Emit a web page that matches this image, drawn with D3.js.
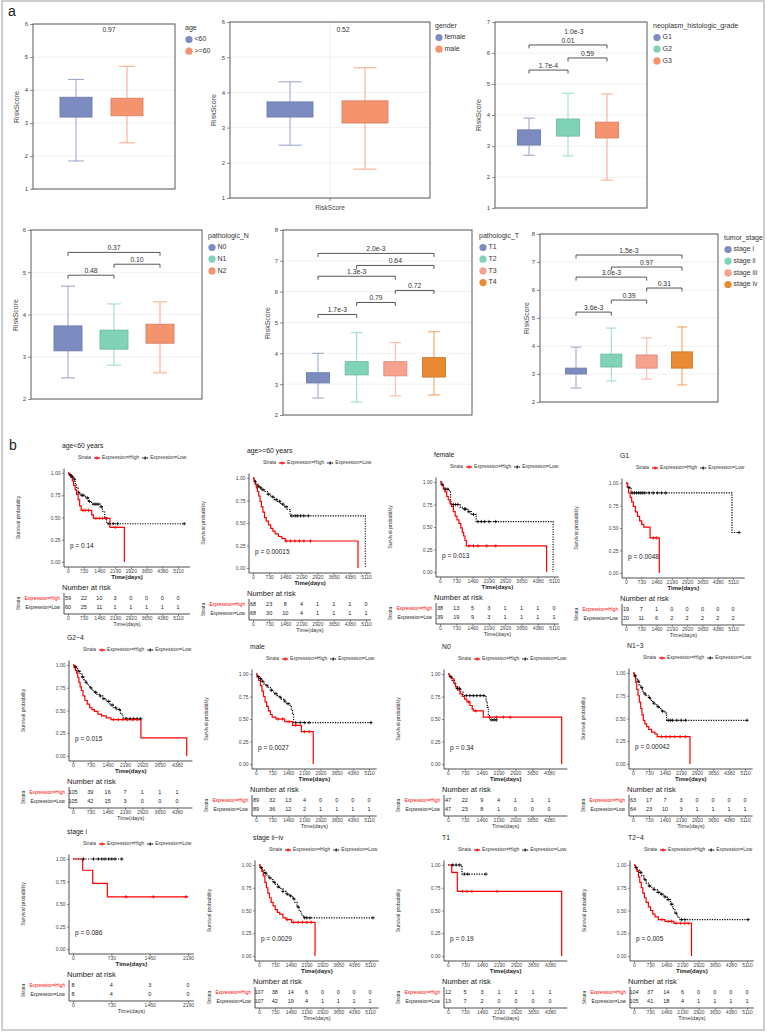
<!DOCTYPE html>
<html><head><meta charset="utf-8">
<script src="https://cdn.jsdelivr.net/npm/d3@7"></script>
<style>body{margin:0;background:#fff}svg{display:block}</style>
</head><body>
<svg id="c" width="767" height="1032"></svg>
<script>
// ---------------- DATA: panel a (box plots) : [lower whisker, Q1, Q3, upper whisker]
const ageGroups = ["<60", ">=60"];
const ageStats = [[1.85,3.18,3.78,4.32],[2.40,3.22,3.75,4.72]];
const agePValue = "0.97";
const genderGroups = ["female", "male"];
const genderStats = [[2.50,3.30,3.73,4.30],[1.82,3.13,3.76,4.70]];
const genderPValue = "0.52";
const gradeGroups = ["G1","G2","G3"];
const gradeStats = [[2.70,3.03,3.52,3.90],[2.68,3.32,3.87,4.70],[1.90,3.26,3.77,4.68]];
const gradeBrackets = [["G1","G2",5.45,"1.7e-4"],["G2","G3",5.84,"0.59"],["G1","G3",6.26,"0.01"]];
const gradeGlobal = ["1.0e-3", 6.68];
const nGroups = ["N0","N1","N2"];
const nStats = [[2.50,3.14,3.73,4.67],[2.80,3.18,3.63,4.25],[2.62,3.32,3.77,4.30]];
const nBrackets = [["N0","N1",4.93,"0.48"],["N1","N2",5.19,"0.10"],["N0","N2",5.47,"0.37"]];
const tGroups = ["T1","T2","T3","T4"];
const tStats = [[2.55,3.04,3.37,4.00],[2.42,3.30,3.73,4.67],[2.62,3.27,3.73,4.35],[2.65,3.23,3.86,4.70]];
const tBrackets = [["T1","T2",5.26,"1.7e-3"],["T2","T3",5.65,"0.79"],["T3","T4",6.04,"0.72"],["T1","T3",6.50,"1.3e-3"],["T2","T4",6.85,"0.64"],["T1","T4",7.24,"2.0e-3"]];
const stageGroups = ["stage i","stage ii","stage iii","stage iv"];
const stageStats = [[2.50,3.00,3.21,3.96],[2.75,3.25,3.71,4.64],[2.82,3.21,3.68,4.29],[2.61,3.21,3.79,4.68]];
const stageBrackets = [["stage i","stage ii",5.21,"3.6e-3"],["stage ii","stage iii",5.64,"0.39"],["stage iii","stage iv",6.07,"0.31"],["stage i","stage iii",6.46,"3.0e-3"],["stage ii","stage iv",6.82,"0.97"],["stage i","stage iv",7.25,"1.5e-3"]];

// ---------------- DATA: panel b (Kaplan-Meier)
const kmTitles = ["age<60 years","age>=60 years","female","G1","G2~4","male","N0","N1~3","stage i","stage ii~iv","T1","T2~4"];
const kmPValues = ["p = 0.14","p = 0.00015","p = 0.013","p = 0.0048","p = 0.015","p = 0.0027","p = 0.34","p = 0.00042","p = 0.086","p = 0.0029","p = 0.19","p = 0.005"];
const kmTickMax = [5110,5110,5110,5110,4380,5110,4380,5110,2190,5110,4380,5110];
const kmRiskHigh = [[59,22,10,3,0,0,0,0],[68,23,8,4,1,1,1,0],[38,13,5,3,1,1,1,0],[19,7,1,0,0,0,0,0],[105,39,16,7,1,1,1],[89,32,13,4,0,0,0,0],[47,22,9,4,1,1,1],[63,17,7,3,0,0,0,0],[8,4,3,0],[107,38,14,6,0,0,0,0],[12,5,3,1,1,1,1],[104,37,14,6,0,0,0,0]];
const kmRiskLow = [[60,25,11,1,1,1,1,1],[68,30,10,4,1,1,1,1],[39,19,9,3,1,1,1,1],[20,11,6,2,2,2,2,2],[105,42,15,3,0,0,0],[89,36,12,2,1,1,1,1],[47,23,8,1,0,0,0],[64,23,10,3,1,1,1,1],[8,4,0,0],[107,42,19,4,1,1,1,1],[13,7,2,0,0,0,0],[105,41,18,4,1,1,1,1]];
// step curves: [time(days), survival from that time on]
const kmHighSteps = [
 [[0,1],[60,0.98],[120,0.95],[200,0.91],[260,0.86],[330,0.81],[400,0.76],[470,0.70],[540,0.63],[610,0.58],[1100,0.53],[1180,0.49],[1950,0.39],[2620,0]],
 [[0,1],[50,0.97],[100,0.93],[150,0.89],[200,0.85],[260,0.80],[320,0.74],[380,0.68],[450,0.62],[520,0.56],[600,0.52],[700,0.48],[800,0.44],[900,0.41],[1000,0.38],[1150,0.35],[1300,0.33],[1460,0.30],[4750,0]],
 [[0,1],[80,0.97],[150,0.92],[220,0.89],[300,0.84],[370,0.80],[450,0.76],[520,0.73],[600,0.67],[680,0.62],[760,0.58],[850,0.54],[930,0.49],[1000,0.44],[1060,0.40],[1120,0.35],[1180,0.29],[4780,0]],
 [[0,1],[60,0.95],[120,0.89],[200,0.84],[270,0.79],[350,0.74],[450,0.68],[550,0.63],[650,0.58],[750,0.54],[850,0.51],[1150,0.39],[1590,0]],
 [[0,1],[50,0.97],[100,0.94],[150,0.91],[200,0.86],[250,0.81],[300,0.76],[350,0.72],[420,0.66],[500,0.61],[600,0.57],[700,0.53],[800,0.51],[900,0.49],[1050,0.46],[1200,0.44],[1400,0.42],[1600,0.40],[2860,0.20],[4790,0]],
 [[0,1],[50,0.97],[120,0.93],[200,0.87],[270,0.81],[340,0.75],[410,0.69],[480,0.64],[560,0.59],[650,0.55],[730,0.52],[900,0.50],[1300,0.47],[1650,0.43],[2050,0.36],[2590,0]],
 [[0,1],[60,0.97],[150,0.95],[250,0.90],[330,0.86],[420,0.82],[520,0.78],[620,0.75],[720,0.72],[820,0.69],[950,0.65],[1050,0.61],[1100,0.59],[1530,0.52],[4930,0]],
 [[0,1],[60,0.96],[120,0.90],[170,0.82],[230,0.75],[290,0.68],[350,0.61],[410,0.54],[470,0.48],[540,0.44],[620,0.41],[720,0.38],[850,0.35],[1000,0.33],[1100,0.30],[2600,0]],
 [[0,1],[185,0.875],[375,0.73],[654,0.58]],
 [[0,1],[60,0.97],[130,0.93],[200,0.88],[270,0.81],[340,0.75],[410,0.69],[480,0.64],[560,0.59],[650,0.55],[750,0.51],[850,0.48],[950,0.46],[1100,0.42],[1250,0.40],[1500,0.37],[2580,0]],
 [[0,1],[160,0.92],[400,0.71],[4880,0]],
 [[0,1],[60,0.97],[130,0.93],[200,0.87],[260,0.81],[330,0.75],[400,0.69],[470,0.64],[550,0.59],[650,0.54],[750,0.50],[850,0.46],[950,0.43],[1100,0.40],[1400,0.38],[1800,0.36],[2600,0]]
];
const kmHighEnd = [2620,4750,4780,1590,4790,2590,4930,2600,2190,2580,4880,2600];
const kmHighCensor = [[700,800,950,1300,1450,1600,1750,2200],[1500,1700,1900,2100,2300,2600],[1300,1500,1700,2100,2500],[1300,1450],[1700,1900,2100,2300,2500,2700],[1000,1200,1500,1800,2200,2400],[900,1200,1800,2100,2400,2700],[1300,1500,1700,1900,2150,2400],[1010,1530,2150],[1300,1600,1800,2000,2200,2400],[630,820,1030,2100],[1250,1550,1700,1900,2100,2300,2450]];
const kmLowSteps = [
 [[0,1],[80,0.98],[150,0.96],[250,0.93],[330,0.88],[400,0.83],[470,0.78],[560,0.75],[800,0.72],[950,0.68],[1100,0.65],[1500,0.62],[1600,0.57],[1700,0.50],[1800,0.43]],
 [[0,1],[60,0.96],[120,0.93],[200,0.91],[300,0.89],[400,0.87],[500,0.85],[650,0.82],[800,0.79],[950,0.76],[1100,0.74],[1250,0.71],[1400,0.68],[1550,0.65],[1680,0.58],[5080,0]],
 [[0,1],[50,0.97],[120,0.95],[200,0.92],[420,0.89],[470,0.78],[500,0.75],[900,0.72],[1000,0.70],[1250,0.67],[1400,0.64],[1620,0.56],[5070,0]],
 [[0,1],[100,0.95],[240,0.89],[5060,0.45]],
 [[0,1],[80,0.98],[150,0.96],[220,0.93],[300,0.90],[380,0.87],[450,0.84],[520,0.81],[600,0.78],[700,0.75],[800,0.72],[900,0.70],[1000,0.68],[1100,0.66],[1250,0.63],[1400,0.60],[1550,0.56],[1700,0.53],[1850,0.51],[2000,0.46],[2100,0.42],[2200,0.41]],
 [[0,1],[60,0.97],[150,0.95],[250,0.92],[350,0.89],[450,0.87],[550,0.85],[650,0.82],[750,0.80],[850,0.78],[950,0.76],[1050,0.74],[1150,0.72],[1250,0.70],[1350,0.67],[1550,0.65],[1600,0.60],[1650,0.56],[1700,0.46]],
 [[0,1],[80,0.97],[180,0.93],[280,0.88],[350,0.84],[550,0.80],[650,0.76],[1650,0.70],[1700,0.63],[1750,0.55],[1800,0.49]],
 [[0,1],[60,0.97],[130,0.94],[200,0.91],[280,0.87],[350,0.84],[430,0.80],[500,0.77],[600,0.75],[700,0.73],[800,0.70],[900,0.67],[1000,0.65],[1100,0.63],[1200,0.61],[1300,0.58],[1450,0.56],[1530,0.48]],
 [[0,1]],
 [[0,1],[60,0.97],[150,0.94],[250,0.91],[350,0.89],[450,0.86],[550,0.84],[650,0.81],[750,0.79],[850,0.76],[950,0.74],[1100,0.71],[1250,0.68],[1400,0.66],[1550,0.63],[1650,0.59],[1750,0.54],[1850,0.49],[1950,0.45],[2050,0.42]],
 [[0,1],[600,0.9]],
 [[0,1],[60,0.97],[150,0.94],[250,0.92],[350,0.88],[450,0.84],[550,0.80],[650,0.77],[750,0.75],[900,0.73],[1050,0.70],[1200,0.68],[1350,0.65],[1500,0.62],[1650,0.57],[1750,0.52],[1850,0.47],[1950,0.43],[2050,0.40]]
];
const kmLowEnd = [5400,5080,5070,5400,2860,5200,2100,5200,930,5250,1630,5160];
const kmLowCensor = [[100,200,300,500,650,700,900,1000,1200,1300,1400,1550,1900,2100,2300,5400],[100,250,350,450,700,900,1050,1200,1350,1500,1750,1900,2000,2150,2300,2500],[100,250,350,600,700,800,1100,1150,1300,1500,1700,1850,2000,2200,2500],[150,300,400,500,600,700,800,900,1100,1300,1500,1700,1900,5400],[100,250,400,550,750,950,1150,1300,1500,1650,1800,1950,2250,2400,2550,2700,2850],[100,200,300,500,700,900,1100,1300,1450,1800,2000,2200,2400,5200],[120,400,500,800,950,1100,1250,1400,1550,1900,2000,2100],[100,250,400,550,750,950,1150,1350,1600,1700,1800,2000,2200,2400,5200],[200,390,480,550,610,680,740,800,930],[100,300,500,700,900,1100,1300,1450,1600,1800,2100,2200,2350,5250],[200,350,500,700,850,1630],[100,300,500,700,900,1100,1250,1400,1550,1700,1900,2150,2300,5160]];

// ---------------- LAYOUT & STYLE
const FONT = '"Liberation Sans", Arial, Helvetica, sans-serif';
const BLUE="#7d8cc0", MINT="#80d3b7", ORANGE="#f5936f", SALMON="#f6a28e", DKORANGE="#e98a32";
const boxLayout = [
 {frame:[33,175,24,189], domain:[1,6], xr:[76,127], bw:32, legend:[185,28], ylab:[17,107], pLab:[109,32]},
 {frame:[230,430,22,198], domain:[1,6], xr:[290,365], bw:46, legend:[435,26], ylab:[214,110], pLab:[343,32], vgrid:true},
 {frame:[495,647,22,208], domain:[1,7], xr:[529,607], bw:23, legend:[653,26], ylab:[479,115], gX:574},
 {frame:[31,202,230,399], domain:[2,6], xr:[68,160], bw:28, legend:[208,236], ylab:[16,315]},
 {frame:[283,472,230,415], domain:[2,8], xr:[318,434], bw:23, legend:[479,236], ylab:[268,323]},
 {frame:[540,718,234,402], domain:[2,8], xr:[576,682], bw:21, legend:[724,238], ylab:[527,318]}
];
const kmLayout = [
 {x0:68,xt:178,y1:473,y0:562},{x0:253,xt:366,y1:478,y0:568},{x0:440,xt:554,y1:482,y0:572},{x0:626,xt:733,y1:483,y0:573},
 {x0:73,xt:177,y1:665,y0:756},{x0:256,xt:369,y1:674,y0:764},{x0:448,xt:549,y1:674,y0:764},{x0:633,xt:745,y1:673,y0:764},
 {x0:73,xt:188,y1:859,y0:949},{x0:259,xt:370,y1:865,y0:956},{x0:448,xt:550,y1:865,y0:956},{x0:634,xt:747,y1:865,y0:956}
];

const svg = d3.select("#c").attr("font-family", FONT);
svg.append("rect").attr("width",767).attr("height",1032).attr("fill","#fff");
svg.append("rect").attr("x",2).attr("y",1).attr("width",762).attr("height",1029)
  .attr("fill","none").attr("stroke","#bdbdbd").attr("stroke-width",1.5);
svg.append("text").attr("x",8).attr("y",16).attr("font-size",14).attr("fill","#222").text("a");
svg.append("text").attr("x",9).attr("y",450).attr("font-size",14).attr("fill","#222").text("b");

function styleAxis(sel, fs){
  sel.select(".domain").remove();
  sel.attr("font-family", FONT).attr("font-size", fs);
  sel.selectAll(".tick line").attr("stroke","#444").attr("stroke-width",0.6);
  sel.selectAll(".tick text").attr("fill","#444");
}

function drawBox(k, groups, stats, colors, legendTitle, brackets, pText, global, xlabel){
  const L = boxLayout[k];
  const [l,r,t,b] = L.frame;
  const y = d3.scaleLinear().domain(L.domain).range([b,t]);
  const x = d3.scalePoint().domain(groups).range(L.xr);
  const g = svg.append("g");
  const ticks = d3.range(L.domain[0], L.domain[1]+1);
  g.selectAll(null).data(ticks).join("line")
    .attr("x1",l).attr("x2",r).attr("y1",d=>y(d)).attr("y2",d=>y(d))
    .attr("stroke","#ececec").attr("stroke-width",0.8);
  if (L.vgrid) g.append("line").attr("x1",(l+r)/2).attr("x2",(l+r)/2).attr("y1",t).attr("y2",b).attr("stroke","#ececec").attr("stroke-width",0.8);
  const ax = g.append("g").attr("transform",`translate(${l},0)`)
    .call(d3.axisLeft(y).tickValues(ticks).tickSize(3).tickPadding(2).tickFormat(d3.format("d")));
  styleAxis(ax, 6);
  g.append("rect").attr("x",l).attr("y",t).attr("width",r-l).attr("height",b-t)
    .attr("fill","none").attr("stroke","#5a5a5a").attr("stroke-width",1);
  if (xlabel){
    g.append("line").attr("x1",(l+r)/2).attr("x2",(l+r)/2).attr("y1",b).attr("y2",b+3).attr("stroke","#444").attr("stroke-width",0.6);
    g.append("text").attr("x",(l+r)/2).attr("y",b+12).attr("text-anchor","middle").attr("font-size",6.5).attr("fill","#444").text(xlabel);
  }
  const bw = L.bw;
  groups.forEach((gr,i)=>{
    const [lo,q1,q3,hi] = stats[i], c = colors[i], cx = x(gr);
    const wc = d3.interpolateRgb(c,"#ffffff")(0.25);
    g.append("line").attr("x1",cx).attr("x2",cx).attr("y1",y(lo)).attr("y2",y(hi)).attr("stroke",wc).attr("stroke-width",1.1);
    [lo,hi].forEach(v=>g.append("line").attr("x1",cx-bw/4).attr("x2",cx+bw/4).attr("y1",y(v)).attr("y2",y(v)).attr("stroke",wc).attr("stroke-width",1.1));
    g.append("rect").attr("x",cx-bw/2).attr("y",y(q3)).attr("width",bw).attr("height",y(q1)-y(q3))
      .attr("fill",c).attr("stroke",d3.color(c).darker(0.35)).attr("stroke-width",0.9);
  });
  (brackets||[]).forEach(([a,bb,v,lab])=>{
    const yy = y(v);
    g.append("path").attr("d",`M${x(a)},${yy+3.5}V${yy}H${x(bb)}V${yy+3.5}`)
      .attr("fill","none").attr("stroke","#444").attr("stroke-width",0.9);
    g.append("text").attr("x",(x(a)+x(bb))/2).attr("y",yy-2).attr("text-anchor","middle")
      .attr("font-size",6.8).attr("fill","#333").text(lab);
  });
  if (global) g.append("text").attr("x",L.gX).attr("y",y(global[1])+2.5).attr("text-anchor","middle").attr("font-size",6.8).attr("fill","#333").text(global[0]);
  if (pText) g.append("text").attr("x",L.pLab[0]).attr("y",L.pLab[1]).attr("text-anchor","middle").attr("font-size",6.8).attr("fill","#333").text(pText);
  const [lx,ly] = L.legend;
  g.append("text").attr("x",lx).attr("y",ly).attr("dominant-baseline","middle").attr("font-size",7).attr("fill","#333").text(legendTitle);
  groups.forEach((gr,i)=>{
    const yy = ly + 11.5 + i*11.7;
    g.append("circle").attr("cx",lx+4).attr("cy",yy).attr("r",3.6).attr("fill",colors[i]);
    g.append("text").attr("x",lx+9.5).attr("y",yy).attr("dominant-baseline","middle").attr("font-size",7).attr("fill","#333").text(gr);
  });
  g.append("text").attr("transform",`translate(${L.ylab[0]},${L.ylab[1]}) rotate(-90)`)
    .attr("text-anchor","middle").attr("dominant-baseline","middle").attr("font-size",7).attr("fill","#444").text("RiskScore");
}

drawBox(0, ageGroups, ageStats, [BLUE,ORANGE], "age", null, agePValue);
drawBox(1, genderGroups, genderStats, [BLUE,ORANGE], "gender", null, genderPValue, null, "RiskScore");
drawBox(2, gradeGroups, gradeStats, [BLUE,MINT,ORANGE], "neoplasm_histologic_grade", gradeBrackets, null, gradeGlobal);
drawBox(3, nGroups, nStats, [BLUE,MINT,ORANGE], "pathologic_N", nBrackets);
drawBox(4, tGroups, tStats, [BLUE,MINT,SALMON,DKORANGE], "pathologic_T", tBrackets);
drawBox(5, stageGroups, stageStats, [BLUE,MINT,SALMON,DKORANGE], "tumor_stage", stageBrackets);

// ---------------- KM panels
function survAt(steps, t){ let s = steps[0][1]; for (const [tt,ss] of steps){ if (tt<=t) s=ss; } return s; }
function cross(g, cx, cy, col){
  g.append("path").attr("d",`M${cx-1.7},${cy}h3.4M${cx},${cy-1.7}v3.4`).attr("stroke",col).attr("stroke-width",0.8).attr("fill","none");
}
function drawKM(i){
  const L = kmLayout[i];
  const x = d3.scaleLinear().domain([0,kmTickMax[i]]).range([L.x0,L.xt]);
  const y = d3.scaleLinear().domain([0,1]).range([L.y0,L.y1]);
  const ax = L.x0-4;
  const tEnd = Math.max(kmHighEnd[i], kmLowEnd[i]);
  const xEnd = x(tEnd*1.05);
  const yTop = y(1.05), yAx = L.y0+5;
  const ticks = d3.range(0, kmTickMax[i]+1, 730);
  const g = svg.append("g");
  g.append("text").attr("x",ax-2).attr("y",L.y1-27).attr("dominant-baseline","middle").attr("font-size",6.8).attr("fill","#222").text(kmTitles[i]);
  // legend (positions from measured text widths)
  const ly = L.y1-15;
  let cx = ax+14;
  const lt = (txt)=>{ const tnode = g.append("text").attr("x",cx).attr("y",ly).attr("dominant-baseline","middle").attr("font-size",4.9).attr("fill","#333").text(txt);
    cx += tnode.node().getComputedTextLength(); };
  lt("Strata"); cx += 3;
  g.append("line").attr("x1",cx).attr("x2",cx+6).attr("y1",ly).attr("y2",ly).attr("stroke","#f00").attr("stroke-width",1.2);
  cross(g, cx+3, ly, "#f00"); cx += 8;
  lt("Expression=High"); cx += 3;
  g.append("line").attr("x1",cx).attr("x2",cx+6).attr("y1",ly).attr("y2",ly).attr("stroke","#000").attr("stroke-width",1.2).attr("stroke-dasharray","1.2,1.2");
  cross(g, cx+3, ly, "#000"); cx += 8;
  lt("Expression=Low");
  // axes
  g.append("line").attr("x1",ax).attr("x2",ax).attr("y1",yTop).attr("y2",yAx).attr("stroke","#222").attr("stroke-width",0.8);
  g.append("line").attr("x1",ax).attr("x2",xEnd).attr("y1",yAx).attr("y2",yAx).attr("stroke","#222").attr("stroke-width",0.8);
  const ya = g.append("g").attr("transform",`translate(${ax},0)`)
    .call(d3.axisLeft(y).tickValues([0,0.25,0.5,0.75,1]).tickFormat(d3.format(".2f")).tickSize(2).tickPadding(1.5));
  styleAxis(ya, 5);
  const xa = g.append("g").attr("transform",`translate(0,${yAx})`)
    .call(d3.axisBottom(x).tickValues(ticks).tickFormat(d3.format("d")).tickSize(2).tickPadding(0.5));
  styleAxis(xa, 5);
  g.append("text").attr("x",(ax+xEnd)/2).attr("y",L.y0+15).attr("text-anchor","middle").attr("dominant-baseline","middle")
    .attr("font-size",6).attr("font-weight","bold").attr("fill","#222").text("Time(days)");
  g.append("text").attr("transform",`translate(${ax-45},${(L.y0+L.y1)/2}) rotate(-90)`)
    .attr("text-anchor","middle").attr("dominant-baseline","middle").attr("font-size",5.2).attr("fill","#333").text("Survival probability");
  function stepPath(steps, end){
    let d = `M${x(steps[0][0])},${y(steps[0][1])}`;
    for (let k=1;k<steps.length;k++) d += `H${x(steps[k][0])}V${y(steps[k][1])}`;
    return d + `H${x(end)}`;
  }
  g.append("path").attr("d",stepPath(kmLowSteps[i],kmLowEnd[i])).attr("fill","none").attr("stroke","#000").attr("stroke-width",1.2).attr("stroke-dasharray","1.2,1.3");
  g.append("path").attr("d",stepPath(kmHighSteps[i],kmHighEnd[i])).attr("fill","none").attr("stroke","#f00").attr("stroke-width",1.2);
  kmLowCensor[i].forEach(t=>cross(g, x(t), y(survAt(kmLowSteps[i],t)), "#000"));
  kmHighCensor[i].forEach(t=>cross(g, x(t), y(survAt(kmHighSteps[i],t)), "#f00"));
  g.append("text").attr("x",L.x0+2).attr("y",y(0.18)).attr("dominant-baseline","middle").attr("font-size",6.5).attr("fill","#222").text(kmPValues[i]);
  // risk table
  const r1 = L.y0+37, r2 = L.y0+46, tb = L.y0+52;
  g.append("text").attr("x",ax-2).attr("y",L.y0+26).attr("dominant-baseline","middle").attr("font-size",7.5).attr("fill","#222").text("Number at risk");
  g.append("line").attr("x1",ax).attr("x2",ax).attr("y1",r1-6).attr("y2",tb).attr("stroke","#222").attr("stroke-width",0.8);
  g.append("line").attr("x1",ax).attr("x2",xEnd).attr("y1",tb).attr("y2",tb).attr("stroke","#222").attr("stroke-width",0.8);
  const ta = g.append("g").attr("transform",`translate(0,${tb})`)
    .call(d3.axisBottom(x).tickValues(ticks).tickFormat(d3.format("d")).tickSize(2).tickPadding(0.5));
  styleAxis(ta, 5);
  g.append("text").attr("x",(ax+xEnd)/2).attr("y",L.y0+63).attr("text-anchor","middle").attr("dominant-baseline","middle")
    .attr("font-size",5.5).attr("fill","#333").text("Time(days)");
  g.append("text").attr("x",ax-4).attr("y",r1).attr("text-anchor","end").attr("dominant-baseline","middle").attr("font-size",4.7).attr("fill","#f00").text("Expression=High");
  g.append("text").attr("x",ax-4).attr("y",r2).attr("text-anchor","end").attr("dominant-baseline","middle").attr("font-size",4.7).attr("fill","#222").text("Expression=Low");
  g.append("text").attr("transform",`translate(${ax-45},${(r1+r2)/2}) rotate(-90)`)
    .attr("text-anchor","middle").attr("dominant-baseline","middle").attr("font-size",5).attr("fill","#333").text("Strata");
  g.selectAll(null).data(kmRiskHigh[i]).join("text").attr("x",(d,k)=>x(ticks[k])).attr("y",r1)
    .attr("text-anchor","middle").attr("dominant-baseline","middle").attr("font-size",5.5).attr("fill","#222").text(d=>d);
  g.selectAll(null).data(kmRiskLow[i]).join("text").attr("x",(d,k)=>x(ticks[k])).attr("y",r2)
    .attr("text-anchor","middle").attr("dominant-baseline","middle").attr("font-size",5.5).attr("fill","#222").text(d=>d);
}
for (let i=0;i<12;i++) drawKM(i);
</script>
</body></html>
